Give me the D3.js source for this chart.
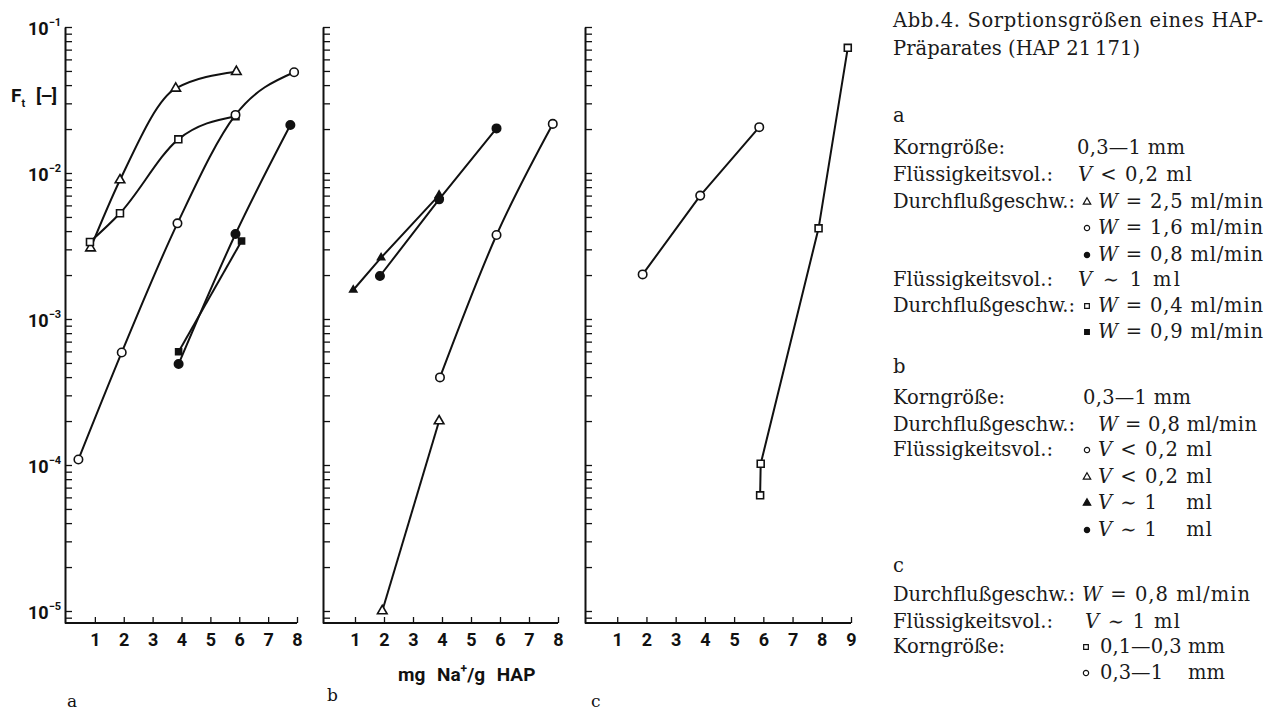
<!DOCTYPE html>
<html><head><meta charset="utf-8">
<script src="https://cdn.jsdelivr.net/npm/d3@7"></script>
<style>
body{margin:0;background:#fff}
svg{display:block}
text{white-space:pre}
</style>
</head><body>
<svg id="chart" width="1266" height="713"></svg>
<script>
// ---------------- data ----------------
const decadeExponents = [-1, -2, -3, -4, -5];
const xTicksA = [1, 2, 3, 4, 5, 6, 7, 8];
const xTicksB = [1, 2, 3, 4, 5, 6, 7, 8];
const xTicksC = [1, 2, 3, 4, 5, 6, 7, 8, 9];

// panel a  [mg Na+/g HAP, F_t]
const aTriOpen    = [[0.85, 3.06e-3], [1.87, 8.95e-3], [3.8, 3.8e-2], [5.9, 4.94e-2]];
const aSqOpen     = [[0.83, 3.37e-3], [1.87, 5.3e-3], [3.89, 1.7e-2], [5.87, 2.45e-2]];
const aCircOpen   = [[0.43, 1.09e-4], [1.93, 5.9e-4], [3.86, 4.52e-3], [5.87, 2.5e-2], [7.9, 4.9e-2]];
const aCircFilled = [[3.9, 4.92e-4], [5.87, 3.82e-3], [7.77, 2.13e-2]];
const aSqFilled   = [[3.9, 5.97e-4], [6.08, 3.42e-3]];
// panel b
const bTriFilled  = [[0.94, 1.58e-3], [1.9, 2.63e-3], [3.9, 7.06e-3]];
const bCircFilled = [[1.86, 1.97e-3], [3.9, 6.6e-3], [5.88, 2.02e-2]];
const bCircOpen   = [[3.93, 3.98e-4], [5.88, 3.76e-3], [7.82, 2.17e-2]];
const bTriOpen    = [[1.94, 1.0e-5], [3.9, 2.0e-4]];
// panel c
const cCircOpen   = [[1.87, 2.02e-3], [3.84, 7.0e-3], [5.86, 2.06e-2]];
const cSqOpen     = [[5.89, 6.2e-5], [5.91, 1.02e-4], [7.89, 4.18e-3], [8.89, 7.2e-2]];

// ---------------- layout ----------------
const INK = "#111";
const svg = d3.select("#chart");
const yTop = 27, yBottom = 623, decadePx = 146;
const y = d3.scaleLog()
  .domain([Math.pow(10, -1 - (yBottom - yTop) / decadePx), 0.1])
  .range([yBottom, yTop]);

const minorTicks = [];
for (let k = -6; k <= -1; k++) for (let m = 1; m <= 9; m++) {
  const v = m * Math.pow(10, k);
  if (v >= y.domain()[0] * 0.999 && v <= 0.1 * 1.0001) minorTicks.push(v);
}

const panels = [
  { axisX: 65, x0: 66, x1: 297, xmax: 8, ticks: xTicksA,
    series: [
      { d: aTriOpen, shape: "triangle", filled: false, curve: true },
      { d: aSqOpen, shape: "square", filled: false, curve: true },
      { d: aCircOpen, shape: "circle", filled: false, curve: true },
      { d: aCircFilled, shape: "circle", filled: true, curve: true },
      { d: aSqFilled, shape: "square", filled: true, curve: false, size: 36 }
    ] },
  { axisX: 323, x0: 326, x1: 558, xmax: 8, ticks: xTicksB,
    series: [
      { d: bTriFilled, shape: "triangle", filled: true, curve: false, size: 22 },
      { d: bCircFilled, shape: "circle", filled: true, curve: false },
      { d: bCircOpen, shape: "circle", filled: false, curve: true },
      { d: bTriOpen, shape: "triangle", filled: false, curve: false }
    ] },
  { axisX: 585, x0: 588, x1: 851, xmax: 9, ticks: xTicksC,
    series: [
      { d: cCircOpen, shape: "circle", filled: false, curve: false },
      { d: cSqOpen, shape: "square", filled: false, curve: false }
    ] }
];

const symType = { circle: d3.symbolCircle, square: d3.symbolSquare, triangle: d3.symbolTriangle };
const symSize = { circle: 56, square: 48, triangle: 40 };
const sans = "Roboto, 'DejaVu Sans', sans-serif";

panels.forEach(p => {
  const x = d3.scaleLinear().domain([0, p.xmax]).range([p.x0, p.x1]);
  const g = svg.append("g");

  const ya = g.append("g").attr("transform", `translate(${p.axisX},0)`)
    .call(d3.axisRight(y).tickValues(minorTicks).tickSize(7).tickSizeOuter(0).tickFormat(""));
  ya.select(".domain").attr("stroke", INK).attr("stroke-width", 2);
  ya.selectAll(".tick line").attr("stroke", INK).attr("stroke-width", 1.3);

  const xa = g.append("g").attr("transform", `translate(0,${yBottom})`)
    .call(d3.axisTop(x).tickValues(p.ticks).tickSize(6).tickSizeOuter(0).tickFormat(""));
  xa.select(".domain").attr("stroke", INK).attr("stroke-width", 2)
    .attr("d", `M${p.axisX},0H${p.x1}`);
  xa.selectAll(".tick line").attr("stroke", INK).attr("stroke-width", 1.3);

  const xl = g.append("g").attr("transform", `translate(0,${yBottom})`)
    .call(d3.axisBottom(x).tickValues(p.ticks).tickSize(0).tickPadding(10).tickFormat(d3.format("d")));
  xl.select(".domain").remove();
  xl.selectAll("text").attr("font-family", sans)
    .attr("font-weight", "bold").attr("font-size", 18).attr("fill", INK);

  p.series.forEach(s => {
    const line = d3.line().x(d => x(d[0])).y(d => y(d[1]))
      .curve(s.curve ? d3.curveMonotoneX : d3.curveLinear);
    g.append("path").attr("d", line(s.d)).attr("fill", "none")
      .attr("stroke", INK).attr("stroke-width", 2).attr("stroke-linejoin", "round");
  });
  p.series.forEach(s => {
    g.selectAll(null).data(s.d).enter().append("path")
      .attr("transform", d => `translate(${x(d[0])},${y(d[1])})`)
      .attr("d", d3.symbol().type(symType[s.shape]).size(s.size || symSize[s.shape])())
      .attr("fill", s.filled ? INK : "#fff")
      .attr("stroke", INK).attr("stroke-width", 1.6);
  });
});

// y tick labels (panel a)
decadeExponents.forEach(e => {
  const t = svg.append("text").attr("x", 28).attr("y", y(Math.pow(10, e)) + 8)
    .attr("font-family", sans).attr("font-weight", "bold").attr("font-size", 18).attr("fill", INK)
    .text("10");
  t.append("tspan").attr("dy", -9).attr("font-size", 11).text("\u2212" + Math.abs(e));
});

// axis title F_t [-]
const ft = svg.append("text").attr("x", 11).attr("y", 102)
  .attr("font-family", sans).attr("font-weight", "bold").attr("font-size", 19).attr("fill", INK).text("F");
ft.append("tspan").attr("dy", 5).attr("font-size", 11).text("t");
svg.append("text").attr("x", 36).attr("y", 102)
  .attr("font-family", sans).attr("font-weight", "bold").attr("font-size", 19).attr("fill", INK)
  .attr("textLength", 21).text("[\u2013]");

// x title
const xt = svg.append("text").attr("x", 398).attr("y", 681)
  .attr("font-family", sans).attr("font-weight", "bold").attr("font-size", 19).attr("fill", INK)
  .attr("word-spacing", 7);
xt.append("tspan").text("mg Na");
xt.append("tspan").attr("dy", -8).attr("font-size", 12).text("+");
xt.append("tspan").attr("dy", 8).text("/g HAP");

// panel letters
const serif = "'DejaVu Serif', 'Liberation Serif', serif";
[["a", 67, 707], ["b", 327, 701], ["c", 591, 707]].forEach(([t, px, py]) =>
  svg.append("text").attr("x", px).attr("y", py).attr("font-family", serif)
    .attr("font-size", 17).attr("fill", INK).text(t));

// ---------------- caption / legend ----------------
function txt(px, py, parts, len) {
  const t = svg.append("text").attr("x", px).attr("y", py).attr("font-family", serif)
    .attr("font-size", 19.5).attr("fill", "#1a1a1a");
  (Array.isArray(parts) ? parts : [parts]).forEach(pt => {
    if (typeof pt === "string") t.append("tspan").text(pt);
    else t.append("tspan").attr("font-style", "italic").text(pt.i);
  });
  if (len) t.attr("textLength", len).attr("lengthAdjust", "spacing");
  return t;
}
function sym(px, py, shape, filled) {
  svg.append("path").attr("transform", `translate(${px},${py})`)
    .attr("d", d3.symbol().type(symType[shape]).size(shape === "triangle" ? 24 : 22)())
    .attr("fill", filled ? INK : "#fff").attr("stroke", INK).attr("stroke-width", 1.2);
}
const L = 893;
txt(L, 27, "Abb.4. Sorptionsgrößen eines HAP-", 370);
txt(L, 55, "Präparates (HAP 21\u2009171)", 247);

txt(L, 122, "a");
txt(L, 154, "Korngröße:", 112); txt(1077, 154, "0,3\u20141 mm", 108);
txt(L, 181, "Flüssigkeitsvol.:", 160); txt(1078, 181, [{ i: "V" }, " < 0,2 ml"], 114);
txt(L, 208, "Durchflußgeschw.:", 182); sym(1087, 202, "triangle", false); txt(1098, 208, [{ i: "W" }, " = 2,5 ml/min"], 165);
sym(1087, 228, "circle", false); txt(1098, 234, [{ i: "W" }, " = 1,6 ml/min"], 165);
sym(1087, 255, "circle", true); txt(1098, 261, [{ i: "W" }, " = 0,8 ml/min"], 165);
txt(L, 286, "Flüssigkeitsvol.:", 160); txt(1078, 286, [{ i: "V" }, " \u223C 1 ml"], 102);
txt(L, 312, "Durchflußgeschw.:", 182); sym(1087, 306, "square", false); txt(1098, 312, [{ i: "W" }, " = 0,4 ml/min"], 165);
sym(1087, 332, "square", true); txt(1098, 338, [{ i: "W" }, " = 0,9 ml/min"], 165);

txt(L, 373, "b");
txt(L, 404, "Korngröße:", 112); txt(1083, 404, "0,3\u20141 mm", 108);
txt(L, 431, "Durchflußgeschw.:", 182); txt(1098, 431, [{ i: "W" }, " = 0,8 ml/min"], 159);
txt(L, 456, "Flüssigkeitsvol.:", 160); sym(1087, 450, "circle", false); txt(1098, 456, [{ i: "V" }, " < 0,2 ml"], 114);
sym(1087, 477, "triangle", false); txt(1098, 483, [{ i: "V" }, " < 0,2 ml"], 114);
sym(1087, 503, "triangle", true); txt(1098, 509, [{ i: "V" }, " \u223C 1    ml"], 114);
sym(1087, 530, "circle", true); txt(1098, 536, [{ i: "V" }, " \u223C 1    ml"], 114);

txt(L, 572, "c");
txt(L, 601, "Durchflußgeschw.:", 182); txt(1082, 601, [{ i: "W" }, " = 0,8 ml/min"], 168);
txt(L, 628, "Flüssigkeitsvol.:", 160); txt(1085, 628, [{ i: "V" }, " \u223C 1 ml"], 95);
txt(L, 653, "Korngröße:", 112); sym(1086, 647, "square", false); txt(1100, 653, "0,1\u20140,3 mm", 125);
sym(1086, 673, "circle", false); txt(1100, 679, "0,3\u20141    mm", 125);
</script>
</body></html>
